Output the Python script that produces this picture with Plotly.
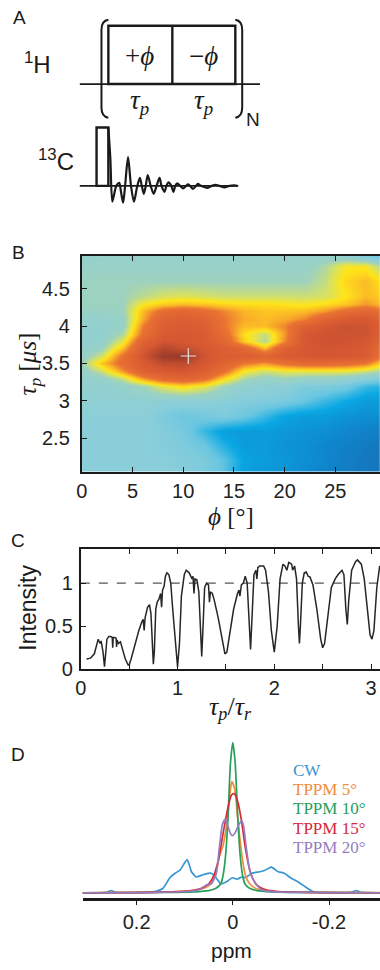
import plotly.graph_objects as go

W, H = 380, 970

# ---------------- Panel B data (phi in degrees, tau_p in us) ----------------
PHI = [0, 2, 4, 6, 8, 10, 12, 14, 16, 18, 20, 22, 24, 26, 28, 30]
TAU = [2.0, 2.2, 2.4, 2.6, 2.8, 3.0, 3.2, 3.3, 3.4, 3.5, 3.6, 3.7, 3.8, 3.9,
       4.0, 4.1, 4.2, 4.3, 4.4, 4.6, 4.8, 5.0]
Z = [
    [0.32, 0.32, 0.32, 0.32, 0.32, 0.31, 0.29, 0.25, 0.16, 0.14, 0.13, 0.11, 0.09, 0.07, 0.05, 0.05],
    [0.32, 0.32, 0.32, 0.32, 0.32, 0.31, 0.3, 0.25, 0.17, 0.15, 0.14, 0.12, 0.1, 0.07, 0.05, 0.05],
    [0.32, 0.32, 0.32, 0.32, 0.31, 0.3, 0.27, 0.2, 0.15, 0.15, 0.13, 0.12, 0.1, 0.08, 0.06, 0.05],
    [0.32, 0.32, 0.32, 0.32, 0.31, 0.29, 0.22, 0.16, 0.15, 0.15, 0.14, 0.13, 0.12, 0.1, 0.08, 0.08],
    [0.33, 0.33, 0.33, 0.33, 0.3, 0.27, 0.28, 0.3, 0.27, 0.22, 0.17, 0.15, 0.15, 0.13, 0.12, 0.12],
    [0.34, 0.34, 0.34, 0.34, 0.33, 0.33, 0.33, 0.32, 0.31, 0.3, 0.29, 0.26, 0.22, 0.18, 0.15, 0.15],
    [0.35, 0.35, 0.36, 0.4, 0.48, 0.52, 0.48, 0.4, 0.35, 0.34, 0.33, 0.3, 0.3, 0.28, 0.22, 0.2],
    [0.36, 0.37, 0.45, 0.6, 0.7, 0.74, 0.68, 0.53, 0.42, 0.38, 0.4, 0.38, 0.38, 0.36, 0.33, 0.3],
    [0.37, 0.45, 0.6, 0.76, 0.8, 0.82, 0.78, 0.66, 0.5, 0.45, 0.48, 0.48, 0.48, 0.48, 0.45, 0.4],
    [0.4, 0.55, 0.68, 0.8, 0.87, 0.88, 0.82, 0.74, 0.64, 0.6, 0.66, 0.7, 0.7, 0.68, 0.64, 0.5],
    [0.37, 0.46, 0.66, 0.83, 0.96, 0.97, 0.84, 0.78, 0.78, 0.74, 0.8, 0.82, 0.83, 0.82, 0.8, 0.6],
    [0.35, 0.39, 0.56, 0.8, 0.9, 0.86, 0.82, 0.78, 0.72, 0.56, 0.76, 0.82, 0.83, 0.82, 0.8, 0.65],
    [0.35, 0.36, 0.48, 0.74, 0.83, 0.82, 0.8, 0.72, 0.54, 0.42, 0.62, 0.82, 0.84, 0.84, 0.82, 0.7],
    [0.35, 0.35, 0.42, 0.66, 0.8, 0.82, 0.8, 0.68, 0.52, 0.44, 0.6, 0.82, 0.84, 0.84, 0.84, 0.75],
    [0.35, 0.35, 0.38, 0.63, 0.78, 0.8, 0.78, 0.64, 0.56, 0.56, 0.62, 0.76, 0.82, 0.85, 0.84, 0.75],
    [0.36, 0.36, 0.38, 0.58, 0.75, 0.78, 0.75, 0.64, 0.58, 0.56, 0.58, 0.62, 0.74, 0.8, 0.82, 0.72],
    [0.38, 0.38, 0.4, 0.56, 0.68, 0.72, 0.68, 0.62, 0.57, 0.55, 0.55, 0.56, 0.6, 0.68, 0.72, 0.65],
    [0.4, 0.4, 0.4, 0.5, 0.54, 0.56, 0.55, 0.53, 0.52, 0.52, 0.51, 0.5, 0.52, 0.55, 0.6, 0.55],
    [0.4, 0.4, 0.4, 0.43, 0.46, 0.47, 0.46, 0.45, 0.45, 0.45, 0.45, 0.45, 0.46, 0.51, 0.56, 0.53],
    [0.39, 0.4, 0.4, 0.4, 0.4, 0.4, 0.4, 0.4, 0.4, 0.4, 0.4, 0.4, 0.44, 0.53, 0.56, 0.5],
    [0.37, 0.38, 0.38, 0.38, 0.38, 0.38, 0.38, 0.38, 0.38, 0.38, 0.38, 0.38, 0.42, 0.5, 0.5, 0.4],
    [0.35, 0.36, 0.36, 0.36, 0.36, 0.36, 0.36, 0.36, 0.36, 0.36, 0.36, 0.36, 0.34, 0.28, 0.22, 0.18],
]
BEST_PHI, BEST_TAU = [10.5], [3.6]
B_XTICKS = [0, 5, 10, 15, 20, 25, 30]
B_YTICKS = [2.5, 3, 3.5, 4, 4.5]

# ---------------- Panel C data (tau_p / tau_r vs intensity) ----------------
C_X = [0.06, 0.10, 0.14, 0.16, 0.18, 0.19, 0.20, 0.21, 0.23, 0.245, 0.26, 0.27, 0.29, 0.31,
       0.325, 0.33, 0.335, 0.35, 0.365, 0.37, 0.375, 0.39, 0.41, 0.43, 0.46, 0.49, 0.50, 0.52,
       0.56, 0.60, 0.63, 0.645, 0.655, 0.665, 0.69, 0.71, 0.725, 0.74, 0.75, 0.76, 0.775, 0.79,
       0.81, 0.825, 0.835, 0.845, 0.86, 0.875, 0.89, 0.91, 0.93, 0.95, 0.98, 1.0, 1.02, 1.04,
       1.07, 1.09, 1.12, 1.15, 1.16, 1.17, 1.18, 1.20, 1.22, 1.24, 1.25, 1.26, 1.28, 1.30, 1.32,
       1.33, 1.34, 1.36, 1.38, 1.42, 1.46, 1.49, 1.51, 1.54, 1.58, 1.62, 1.635, 1.645, 1.66,
       1.68, 1.70, 1.72, 1.74, 1.755, 1.77, 1.79, 1.81, 1.82, 1.83, 1.85, 1.87, 1.89, 1.91,
       1.94, 1.97, 2.0, 2.03, 2.06, 2.09, 2.11, 2.13, 2.15, 2.18, 2.19, 2.21, 2.23, 2.25, 2.26,
       2.27, 2.29, 2.31, 2.33, 2.35, 2.37, 2.40, 2.44, 2.48, 2.50, 2.52, 2.55, 2.59, 2.63, 2.66,
       2.70, 2.72, 2.74, 2.755, 2.77, 2.80, 2.82, 2.84, 2.86, 2.88, 2.90, 2.93, 2.96, 2.99, 3.01,
       3.03, 3.06, 3.09]
C_Y = [0.12, 0.13, 0.18, 0.28, 0.35, 0.32, 0.30, 0.33, 0.20, 0.03, 0.20, 0.35, 0.38, 0.38,
       0.37, 0.25, 0.37, 0.37, 0.36, 0.26, 0.34, 0.30, 0.32, 0.25, 0.12, 0.05, 0.05, 0.12,
       0.30, 0.45, 0.55, 0.58, 0.45, 0.60, 0.72, 0.75, 0.65, 0.20, 0.06, 0.20, 0.70, 0.78,
       0.82, 0.88, 0.72, 0.92, 0.96, 1.08, 1.12, 1.10, 1.00, 0.70, 0.25, 0.03, 0.30, 0.85,
       1.10, 1.15, 1.12, 1.05, 1.08, 0.88, 1.05, 1.04, 0.90, 0.40, 0.15, 0.40, 0.95, 1.00, 0.98,
       0.78, 0.90, 0.88, 0.80, 0.60, 0.35, 0.18, 0.20, 0.40, 0.70, 0.88, 0.92, 0.85, 0.98,
       1.00, 1.08, 1.00, 0.50, 0.23, 0.60, 1.10, 1.15, 1.05, 1.18, 1.20, 1.20, 1.20, 1.15,
       0.90, 0.45, 0.20, 0.50, 1.05, 1.22, 1.20, 1.15, 1.24, 1.22, 1.15, 1.20, 1.05, 0.50, 0.30,
       0.50, 1.00, 1.12, 1.13, 1.08, 1.07, 0.98, 0.70, 0.35, 0.25, 0.30, 0.60, 0.95, 1.05, 1.10,
       1.15, 1.10, 0.70, 0.52, 0.80, 1.15, 1.20, 1.25, 1.27, 1.24, 1.22, 1.05, 0.75, 0.40, 0.35,
       0.45, 0.95, 1.20]
C_REF = 1.0
C_XTICKS = [0, 1, 2, 3]
C_XMINOR = 0.5
C_YTICKS = [0, 0.5, 1]

# ---------------- Panel D data (spectra, ppm vs intensity) ----------------
CW_PPM = [0.32, 0.28, 0.262, 0.253, 0.244, 0.22, 0.18, 0.16, 0.145, 0.131, 0.12, 0.11, 0.1,
          0.095, 0.09, 0.086, 0.076, 0.062, 0.045, 0.035, 0.025, 0.012, 0.001, -0.009, -0.019,
          -0.026, -0.04, -0.056, -0.067, -0.08, -0.094, -0.107, -0.12, -0.138, -0.155, -0.169,
          -0.2, -0.245, -0.257, -0.268, -0.32]
CW_I = [0, 0, 0.002, 0.015, 0.002, 0, 0.003, 0.01, 0.03, 0.1, 0.13, 0.15, 0.2, 0.22, 0.18,
        0.14, 0.105, 0.12, 0.13, 0.1, 0.06, 0.075, 0.1, 0.09, 0.105, 0.1, 0.13, 0.14, 0.15,
        0.17, 0.14, 0.13, 0.1, 0.067, 0.03, 0.005, 0, 0.002, 0.015, 0.002, 0]
T5_PPM = [0.32, 0.15, 0.09, 0.06, 0.045, 0.035, 0.028, 0.02, 0.012, 0.006, 0.002, -0.004,
          -0.01, -0.018, -0.025, -0.035, -0.05, -0.08, -0.15, -0.32]
T5_I = [0, 0.004, 0.012, 0.03, 0.06, 0.13, 0.24, 0.32, 0.47, 0.66, 0.74, 0.69, 0.5, 0.27,
        0.13, 0.06, 0.025, 0.01, 0.003, 0]
T10_PPM = [0.32, 0.15, 0.08, 0.05, 0.035, 0.025, 0.02, 0.015, 0.01, 0.005, 0.0, -0.005, -0.01,
           -0.015, -0.02, -0.025, -0.035, -0.05, -0.08, -0.15, -0.32]
T10_I = [0, 0.002, 0.006, 0.014, 0.03, 0.06, 0.12, 0.25, 0.5, 0.86, 1.0, 0.86, 0.52, 0.26,
         0.12, 0.06, 0.03, 0.014, 0.006, 0.002, 0]
T15_PPM = [0.32, 0.15, 0.09, 0.065, 0.05, 0.04, 0.03, 0.02, 0.01, 0.003, -0.003, -0.01,
           -0.018, -0.025, -0.033, -0.042, -0.052, -0.067, -0.09, -0.15, -0.32]
T15_I = [0, 0.004, 0.013, 0.03, 0.06, 0.11, 0.22, 0.4, 0.57, 0.65, 0.66, 0.61, 0.48, 0.32,
         0.18, 0.09, 0.045, 0.022, 0.01, 0.003, 0]
T20_PPM = [0.32, 0.15, 0.09, 0.07, 0.056, 0.045, 0.035, 0.028, 0.022, 0.016, 0.01, 0.004, 0.0,
           -0.005, -0.012, -0.018, -0.022, -0.028, -0.035, -0.042, -0.05, -0.06, -0.08, -0.15,
           -0.32]
T20_I = [0, 0.003, 0.01, 0.02, 0.05, 0.06, 0.12, 0.3, 0.45, 0.49, 0.44, 0.39, 0.38, 0.4, 0.45,
         0.48, 0.45, 0.3, 0.15, 0.09, 0.05, 0.02, 0.008, 0.002, 0]
D_NAMES = ["CW", "TPPM 5°", "TPPM 10°", "TPPM 15°", "TPPM 20°"]
D_COLORS = ["rgb(55,150,210)", "rgb(242,140,60)", "rgb(40,160,90)", "rgb(214,40,56)",
            "rgb(150,125,192)"]
D_XTICKS = [0.2, 0, -0.2]
D_XLABELS = ["0.2", "0", "-0.2"]

# ---------------- Panel A schematic (drawing units) ----------------
FID_X = [104, 106, 108, 110, 112, 115, 117, 119, 121, 124, 127, 130, 133, 136, 138, 140, 142,
         144, 147, 150, 153, 156, 158, 161, 163, 165, 168, 170, 172, 174, 177, 180, 183, 185,
         187, 190, 193, 195, 198, 205, 209, 213, 217, 222, 227, 232, 235]
FID_Y = [129, 160, 204, 196, 188, 185, 195, 205, 188, 159, 188, 204, 190, 180, 188, 196, 188,
         177, 188, 196, 188, 180, 188, 194, 188, 184.5, 188, 194, 188, 185.5, 188, 190.5, 188, 186.5,
         188, 191, 188, 186, 188, 190, 188, 187, 188, 189.5, 188, 187.5, 188]


def px(x):
    return x / W


def py(y):
    return 1 - y / H


INK = "#1a1a1a"
SANS = "Liberation Sans, Arial, sans-serif"
SERIF = "Liberation Serif, Times New Roman, serif"

fig = go.Figure()

# ---- Panel A
fig.add_trace(go.Scatter(x=FID_X, y=FID_Y, mode="lines",
                         line=dict(color=INK, width=2.2, shape="spline", smoothing=0.8),
                         xaxis="x", yaxis="y", hoverinfo="skip"))

shapes = []
lineA = dict(color=INK, width=2.4)
shapes += [
    dict(type="line", xref="x", yref="y", x0=75, x1=258, y0=85, y1=85, line=dict(color=INK, width=1.8)),
    dict(type="rect", xref="x", yref="y", x0=104, x1=233, y0=26, y1=85, line=lineA),
    dict(type="line", xref="x", yref="y", x0=169, x1=169, y0=26, y1=85, line=lineA),
    dict(type="path", xref="x", yref="y", path="M 104 20 Q 97 21 97 30 L 97 109 Q 97 118 104 119",
         line=dict(color=INK, width=2)),
    dict(type="path", xref="x", yref="y", path="M 233 20 Q 240 21 240 30 L 240 109 Q 240 118 233 119",
         line=dict(color=INK, width=2)),
    dict(type="line", xref="x", yref="y", x0=75, x1=236, y0=188, y1=188, line=dict(color=INK, width=1.8)),
    dict(type="rect", xref="x", yref="y", x0=92, x1=104, y0=129, y1=188, line=lineA),
]

# ---- Panel B
cscale = [
    [0.00, "rgb(25,105,175)"], [0.10, "rgb(15,135,205)"], [0.18, "rgb(10,168,228)"],
    [0.26, "rgb(105,198,225)"], [0.32, "rgb(138,206,218)"], [0.40, "rgb(158,210,192)"],
    [0.46, "rgb(215,225,100)"], [0.51, "rgb(255,229,25)"], [0.57, "rgb(250,180,40)"],
    [0.64, "rgb(234,115,50)"], [0.82, "rgb(214,88,50)"], [1.00, "rgb(140,52,42)"],
]
fig.add_trace(go.Heatmap(x=PHI, y=TAU, z=Z, colorscale=cscale, zmin=0, zmax=1, zsmooth="best",
                         showscale=False, xaxis="x2", yaxis="y2", hoverinfo="skip"))
fig.add_trace(go.Scatter(x=BEST_PHI, y=BEST_TAU, mode="markers",
                         marker=dict(symbol="cross-thin", size=11,
                                     line=dict(color="rgba(235,235,235,0.95)", width=1.2)),
                         xaxis="x2", yaxis="y2", hoverinfo="skip"))

# ---- Panel C
fig.add_trace(go.Scatter(x=C_X, y=C_Y, mode="lines", line=dict(color="#262626", width=1.5),
                         xaxis="x3", yaxis="y3", hoverinfo="skip"))
shapes.append(dict(type="line", xref="x3 domain", yref="y3", x0=0, x1=1, y0=C_REF, y1=C_REF,
                   line=dict(color="#555", width=1.3, dash="dash"), layer="below"))

# ---- Panel D
for xs, ys, c in zip([CW_PPM, T5_PPM, T10_PPM, T15_PPM, T20_PPM],
                     [CW_I, T5_I, T10_I, T15_I, T20_I], D_COLORS):
    fig.add_trace(go.Scatter(x=xs, y=ys, mode="lines",
                             line=dict(color=c, width=1.7, shape="spline", smoothing=0.6),
                             xaxis="x4", yaxis="y4", hoverinfo="skip"))

# ---- Axes
tickfont = dict(family=SANS, size=20, color="#222")
axbase = dict(showline=True, linecolor=INK, linewidth=2, ticks="inside", ticklen=5,
              tickwidth=1, tickcolor=INK, zeroline=False, showgrid=False, tickfont=tickfont)

fig.update_layout(
    width=W, height=H, margin=dict(l=0, r=0, t=0, b=0),
    paper_bgcolor="white", plot_bgcolor="rgba(0,0,0,0)", showlegend=False,
    xaxis=dict(domain=[0, 1], range=[0, W], visible=False, anchor="y"),
    yaxis=dict(domain=[py(215), 1], range=[215, 0], visible=False, anchor="x"),
    xaxis2=dict(axbase, domain=[px(77), 1], range=[0, 29.4], anchor="y2", mirror="ticks",
                tickvals=B_XTICKS, ticklabelstandoff=0),
    yaxis2=dict(axbase, domain=[py(477), py(259)], range=[2.05, 4.94], anchor="x2",
                tickvals=B_YTICKS, ticklabelstandoff=6),
    xaxis3=dict(axbase, domain=[px(76), 1], range=[0, 3.093], anchor="y3", mirror="ticks",
                tickvals=C_XTICKS, ticklabelstandoff=0,
                minor=dict(dtick=C_XMINOR, tick0=0, ticks="inside", ticklen=5, tickwidth=1,
                           tickcolor=INK, showgrid=False)),
    yaxis3=dict(axbase, domain=[py(677), py(555)], range=[0, 1.40], anchor="x3",
                tickvals=C_YTICKS, ticklabelstandoff=2),
    xaxis4=dict(showline=True, linecolor=INK, linewidth=2.5, ticks="outside", ticklen=5,
                tickwidth=1.2, tickcolor=INK, zeroline=False, showgrid=False, tickfont=tickfont,
                domain=[px(78), 1], range=[0.312, -0.306], anchor="y4",
                tickvals=D_XTICKS, ticktext=D_XLABELS, ticklabelstandoff=0),
    yaxis4=dict(domain=[py(908), py(745)], range=[-0.033, 1.04], visible=False, anchor="x4"),
    shapes=shapes,
)

ann = []


def label(text, x, y, size=17, family=SANS, color=INK, ref="paper", angle=0, xanchor="center"):
    d = dict(text=text, showarrow=False, font=dict(family=family, size=size, color=color),
             textangle=angle, xanchor=xanchor, yanchor="middle")
    if ref == "paper":
        d.update(x=px(x), y=py(y), xref="paper", yref="paper")
    else:
        d.update(x=x, y=y, xref="x", yref="y")
    ann.append(d)


# panel letters
label("A", 14, 18, size=19)
label("B", 13, 255, size=19)
label("C", 12, 547, size=19)
label("D", 12, 763, size=19)

# panel A texts
label("<sup>1</sup>H", 32, 64, size=24, ref="x")
label("<sup>13</sup>C", 51, 162, size=24, ref="x")
label("+<i>ϕ</i>", 136, 57, size=27, family=SERIF, ref="x")
label("−<i>ϕ</i>", 201, 57, size=27, family=SERIF, ref="x")
label("<i>τ<sub>p</sub></i>", 136, 103, size=27, family=SERIF, ref="x")
label("<i>τ<sub>p</sub></i>", 201, 103, size=27, family=SERIF, ref="x")
label("N", 251, 121, size=19, ref="x")

# panel B titles
label("<i>τ<sub>p</sub></i> [<i>μs</i>]", 24, 368, size=25, family=SERIF, angle=-90)
label("<i>ϕ</i> [°]", 229, 522, size=25, family=SERIF)

# panel C titles
label("Intensity", 22, 615, size=23, angle=-90)
label("<i>τ<sub>p</sub></i>/<i>τ<sub>r</sub></i>", 228, 716, size=26, family=SERIF)

# panel D legend + title
legend_y = [779, 798.5, 818, 837.5, 857]
for name, c, yy in zip(D_NAMES, D_COLORS, legend_y):
    label(name, 290, yy, size=17, family=SERIF, color=c, xanchor="left")
label("ppm", 229, 961, size=21)

fig.update_layout(annotations=ann)
fig.write_html("out.html")
